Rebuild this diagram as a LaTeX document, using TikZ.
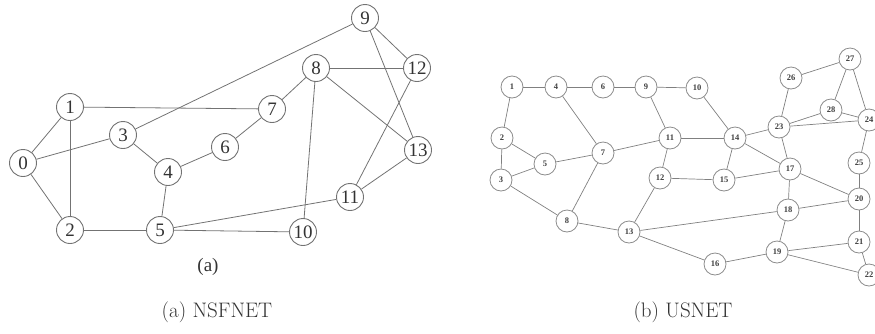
\documentclass[tikz,border=0pt]{standalone}
\usepackage{fontspec}
\newfontfamily\labelfont{Liberation Serif}
\begin{document}
\begin{tikzpicture}[x=1pt,y=-1pt,
  bignode/.style={circle,draw=black!55,line width=0.9pt,fill=white,minimum size=27pt,inner sep=0pt,
    font=\labelfont\fontsize{19}{19}\selectfont,text=black!80},
  smallnode/.style={circle,draw=black!45,line width=0.8pt,fill=white,minimum size=22pt,inner sep=0pt,
    font=\labelfont\bfseries\fontsize{8.5}{8.5}\selectfont,text=black!75},
  bigedge/.style={draw=black!55,line width=0.8pt},
  smalledge/.style={draw=black!50,line width=0.7pt},
  caption/.style={font=\fontsize{21}{24}\selectfont,text=black!80}]
\useasboundingbox (0,0) rectangle (875,333);
\clip (0,0) rectangle (875,333);

% ---- NSFNET ----
\node[bignode] (a0)  at (23,163)  {0};
\node[bignode] (a1)  at (70,107)  {1};
\node[bignode] (a2)  at (70,230)  {2};
\node[bignode] (a3)  at (123,135) {3};
\node[bignode] (a4)  at (168,172) {4};
\node[bignode] (a5)  at (160,230) {5};
\node[bignode] (a6)  at (225,147) {6};
\node[bignode] (a7)  at (272,109) {7};
\node[bignode] (a8)  at (316,68)  {8};
\node[bignode] (a9)  at (365,18)  {9};
\node[bignode] (a10) at (303,232) {10};
\node[bignode] (a11) at (350,197) {11};
\node[bignode] (a12) at (417,68)  {12};
\node[bignode] (a13) at (418,150) {13};
\node[font=\labelfont\fontsize{19}{19}\selectfont,text=black!80] (alabel) at (208,267) {(a)};

\foreach \u/\v in {a0/a1,a0/a3,a0/a2,a1/a7,a1/a2,a3/a9,a3/a4,a4/a6,a4/a5,a6/a7,
                   a7/a8,a8/a12,a8/a13,a8/a10,a9/a12,a9/a13,a12/a11,a13/a11,a11/a5,a2/a5,a5/a10}
  \path[bigedge] (\u) -- (\v);

% ---- USNET ----
\node[smallnode] (b1)  at (512,87)  {1};
\node[smallnode] (b2)  at (502,138) {2};
\node[smallnode] (b3)  at (501,180) {3};
\node[smallnode] (b4)  at (556,87)  {4};
\node[smallnode] (b5)  at (545,164) {5};
\node[smallnode] (b6)  at (603,87)  {6};
\node[smallnode] (b7)  at (603,153) {7};
\node[smallnode] (b8)  at (567,221) {8};
\node[smallnode] (b9)  at (646,87)  {9};
\node[smallnode] (b10) at (697,88)  {10};
\node[smallnode] (b11) at (670,138) {11};
\node[smallnode] (b12) at (660,178) {12};
\node[smallnode] (b13) at (629,232) {13};
\node[smallnode] (b14) at (735,138) {14};
\node[smallnode] (b15) at (724,180) {15};
\node[smallnode] (b16) at (715,264) {16};
\node[smallnode] (b17) at (790,169) {17};
\node[smallnode] (b18) at (788,210) {18};
\node[smallnode] (b19) at (777,252) {19};
\node[smallnode] (b20) at (859,199) {20};
\node[smallnode] (b21) at (859,242) {21};
\node[smallnode] (b22) at (869,275) {22};
\node[smallnode] (b23) at (779,127) {23};
\node[smallnode] (b24) at (869,120) {24};
\node[smallnode] (b25) at (859,163) {25};
\node[smallnode] (b26) at (791,78)  {26};
\node[smallnode] (b27) at (850,59)  {27};
\node[smallnode] (b28) at (831,110) {28};

\foreach \u/\v in {b1/b4,b4/b6,b6/b9,b9/b10,b1/b2,b2/b3,b2/b5,b3/b5,b4/b7,b5/b7,
                   b7/b11,b7/b8,b3/b8,b8/b13,b9/b11,b11/b14,b10/b14,b11/b12,b12/b15,b12/b13,
                   b14/b15,b14/b23,b14/b17,b15/b17,b23/b26,b26/b27,b27/b28,b27/b24,b23/b28,
                   b23/b24,b28/b24,b23/b17,b17/b18,b17/b20,b24/b25,b25/b20,b18/b20,b13/b18,
                   b18/b19,b13/b16,b16/b19,b19/b21,b19/b22,b20/b21,b21/b22}
  \path[smalledge] (\u) -- (\v);

% ---- captions ----
\node[caption] (capa) at (217,312) {(a) NSFNET};
\node[caption] (capb) at (683,312) {(b) USNET};
\end{tikzpicture}
\end{document}
